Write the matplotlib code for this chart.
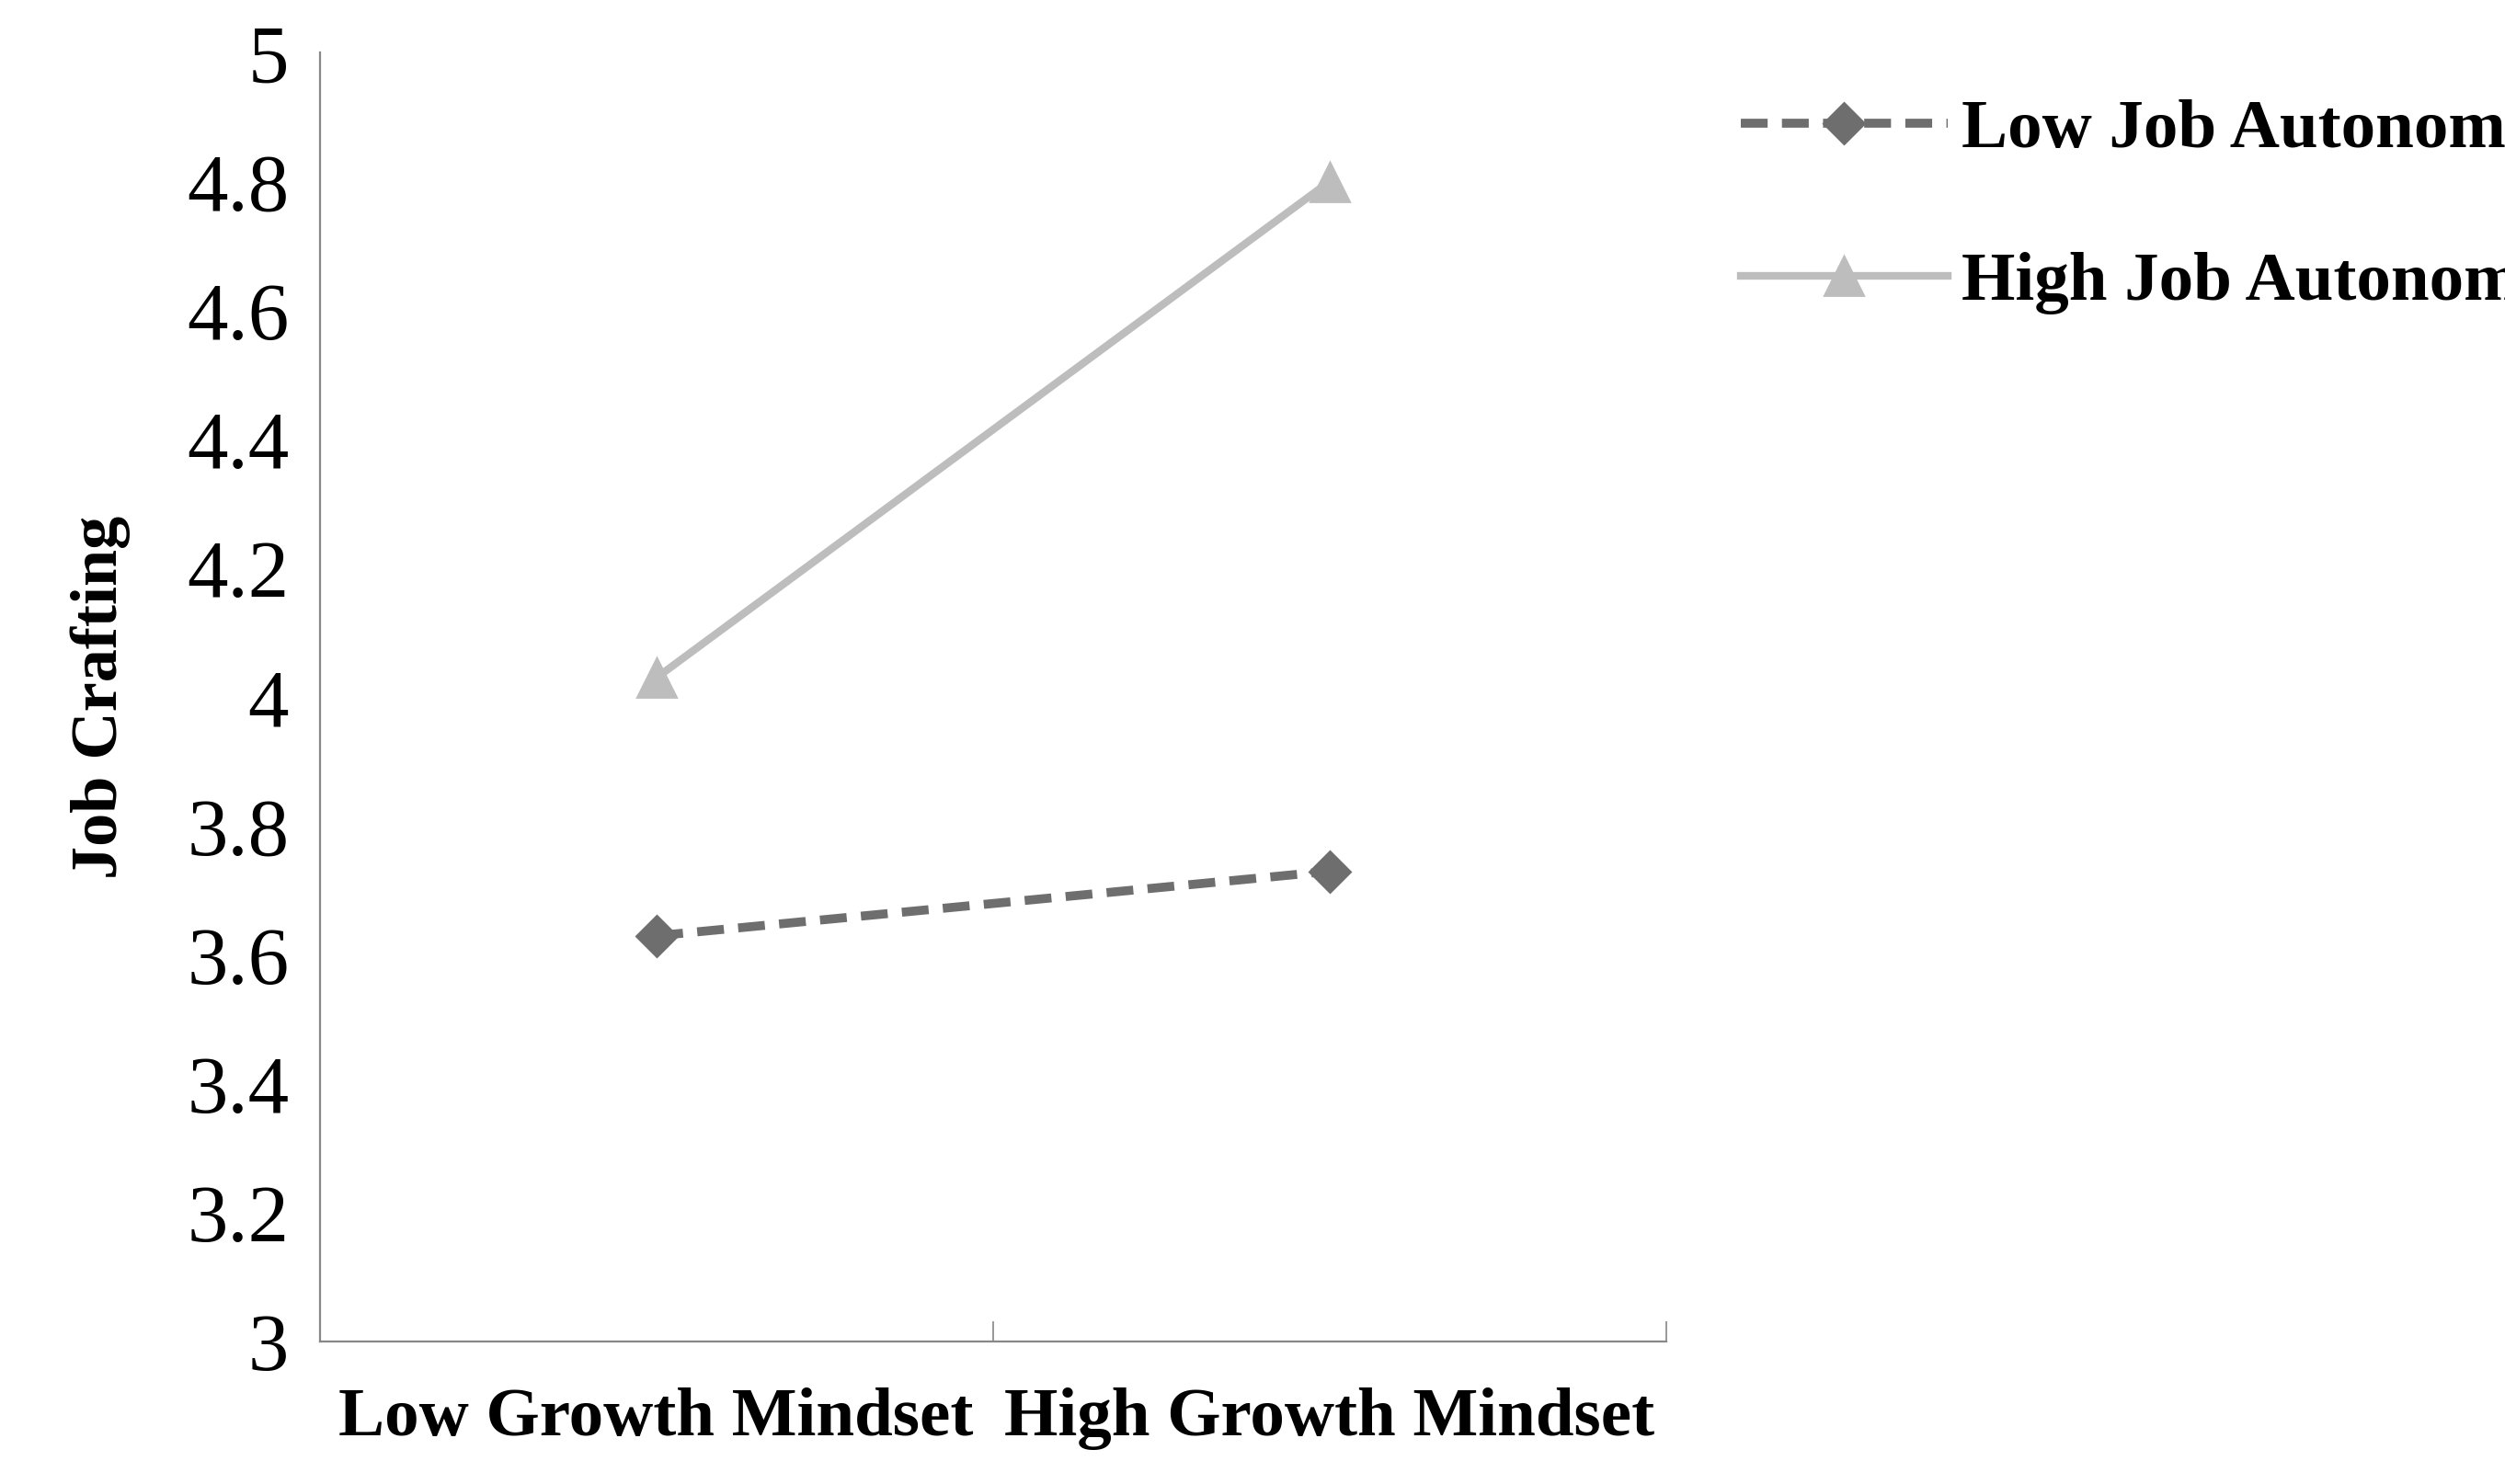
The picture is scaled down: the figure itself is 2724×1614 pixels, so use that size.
import matplotlib
matplotlib.use("Agg")
import matplotlib.pyplot as plt
from matplotlib.ticker import FixedLocator, NullFormatter

plt.rcParams['font.family'] = ['Liberation Serif', 'DejaVu Serif']

categories = ["Low Growth Mindset", "High Growth Mindset"]
low_autonomy = [3.63, 3.73]
high_autonomy = [4.03, 4.80]
y_ticks = [3, 3.2, 3.4, 3.6, 3.8, 4, 4.2, 4.4, 4.6, 4.8, 5]

fig = plt.figure(figsize=(13.62, 8.07), dpi=200)
ax = fig.add_axes([0.1276, 0.0958, 0.5375, 0.8687])

x = [0.5, 1.5]
ax.plot(x, low_autonomy, color='#6e6e6e', lw=3.5, ls=(0, (3, 1.6)), marker='D',
        markersize=11, label='Low Job Autonomy')
ax.plot(x, high_autonomy, color='#bdbdbd', lw=3, marker='^',
        markersize=15, label='High Job Autonomy')

ax.set_xlim(0, 2)
ax.set_ylim(3, 5)
ax.set_yticks(y_ticks)
ax.set_yticklabels([f"{v:g}" for v in y_ticks], fontsize=32)
ax.xaxis.set_major_locator(FixedLocator(x))
ax.set_xticklabels(categories, fontsize=27, fontweight='bold')
ax.tick_params(axis='x', which='major', length=0, pad=18)
ax.xaxis.set_minor_locator(FixedLocator([0, 1, 2]))
ax.xaxis.set_minor_formatter(NullFormatter())
ax.tick_params(axis='x', which='minor', direction='in', length=8, color='#888888')
ax.tick_params(axis='y', direction='in', length=0, pad=12)
for s in ['top', 'right']:
    ax.spines[s].set_visible(False)
for s in ['left', 'bottom']:
    ax.spines[s].set_color('#888888')
ax.set_ylabel('Job Crafting', fontsize=26, fontweight='bold', labelpad=22)

fig.legend(loc='upper left', bbox_to_anchor=(0.67, 0.975), frameon=False,
           prop={'size': 27, 'weight': 'bold'}, handlelength=3.0,
           labelspacing=1.3, handletextpad=0.2)

fig.savefig('out.png', dpi=200)
